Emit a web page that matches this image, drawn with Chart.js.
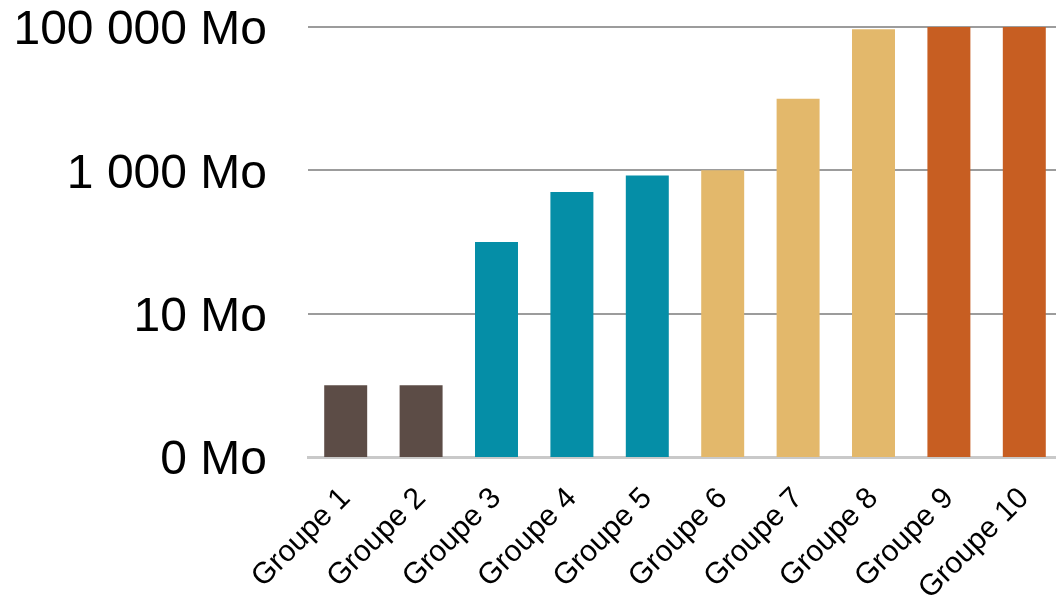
<!DOCTYPE html>
<html>
<head>
<meta charset="utf-8">
<script src="https://cdn.jsdelivr.net/npm/chart.js@4"></script>
<style>
html, body { margin: 0; padding: 0; background: #fff; overflow: hidden; }
#wrap { width: 1062px; height: 602px; }
</style>
</head>
<body>
<div id="wrap"><canvas id="sizeChart" width="1062" height="602"></canvas></div>
<script>
// Data (log scale, in Mo)
const groups = ['Groupe 1', 'Groupe 2', 'Groupe 3', 'Groupe 4', 'Groupe 5',
    'Groupe 6', 'Groupe 7', 'Groupe 8', 'Groupe 9', 'Groupe 10'];
const sizes = [1, 1, 100, 500, 850, 1000, 10000, 93000, 100000, 100000];
const barColors = ['#5c4c46', '#5c4c46', '#058ea7', '#058ea7', '#058ea7',
    '#e3b86b', '#e3b86b', '#e3b86b', '#c75e22', '#c75e22'];
const yTickValues = [0.1, 10, 1000, 100000];
const yTickLabels = ['0 Mo', '10 Mo', '1 000 Mo', '100 000 Mo'];

const ctx = document.getElementById('sizeChart').getContext('2d');

new Chart(ctx, {
    type: 'bar',
    data: {
        labels: groups,
        datasets: [{
            data: sizes,
            backgroundColor: barColors,
            barPercentage: 0.57,
            categoryPercentage: 1
        }]
    },
    options: {
        responsive: false,
        animation: false,
        layout: { padding: { top: 27, right: 0, left: 0, bottom: 0 } },
        plugins: {
            legend: { display: false },
            tooltip: { enabled: false }
        },
        scales: {
            x: {
                grid: { display: false },
                border: { display: true, color: '#c9c9c9', width: 3 },
                ticks: {
                    color: '#000',
                    font: { family: 'Liberation Sans', size: 30 },
                    minRotation: 45,
                    maxRotation: 45,
                    autoSkip: false,
                    padding: 16
                },
                afterFit: scale => {
                    scale.height = 145;
                    scale.paddingLeft = 0;
                    scale.paddingRight = 0;
                }
            },
            y: {
                type: 'logarithmic',
                min: yTickValues[0],
                max: yTickValues[yTickValues.length - 1],
                border: { display: false },
                grid: {
                    drawTicks: false,
                    lineWidth: 2,
                    color: c => (c.tick && c.tick.value === yTickValues[0]) ? 'rgba(0,0,0,0)' : '#9c9c9c'
                },
                ticks: {
                    color: '#000',
                    font: { family: 'Liberation Sans', size: 48 },
                    padding: 41,
                    labelOffset: 4,
                    callback: (value, index) => yTickLabels[index]
                },
                afterBuildTicks: scale => {
                    scale.ticks = yTickValues.map(v => ({ value: v }));
                },
                afterFit: scale => {
                    scale.width = 308;
                    // keep the label padding from pushing the plot down
                    scale.paddingTop = 0;
                    scale.paddingBottom = 0;
                }
            }
        }
    }
});
</script>
</body>
</html>
